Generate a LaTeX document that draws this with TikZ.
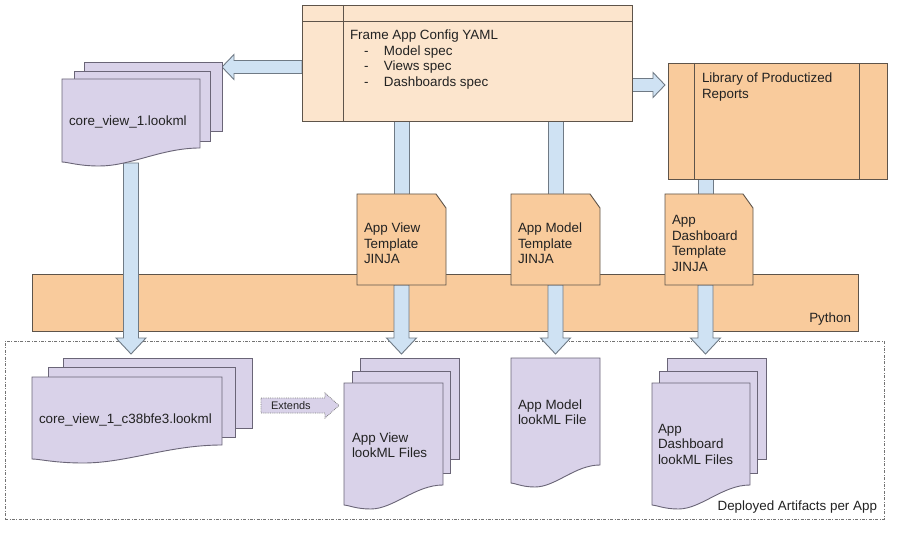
\documentclass[tikz,border=0pt]{standalone}
\usepackage{fontspec}
\setmainfont{Liberation Sans}
\usetikzlibrary{calc}
\definecolor{peach}{HTML}{FCE5CD}
\definecolor{orng}{HTML}{F9CB9C}
\definecolor{lilac}{HTML}{D9D2E9}
\definecolor{lblue}{HTML}{CFE2F3}
\definecolor{edge}{HTML}{5E544A}
\definecolor{sedge}{HTML}{6A6577}
\definecolor{aedge}{HTML}{6F7A85}
\definecolor{ink}{HTML}{222222}
\pgfdeclarelayer{back}\pgfdeclarelayer{mid}\pgfsetlayers{back,mid,main}
\tikzset{
  base/.style={inner sep=0pt, outer sep=0pt, anchor=north west},
  boxf/.style={base, draw=edge, line width=0.9pt},
  sheetback/.style={base, draw=sedge, fill=lilac, line width=0.9pt},
  sheet/.style={fill=lilac, draw=sedge, line width=0.9pt},
  tmpl/.style={fill=orng, draw=edge, line width=0.9pt},
  blk/.style={fill=lblue, draw=aedge, line width=0.9pt},
  txt/.style={inner sep=0pt, outer sep=0pt, anchor=base west, text=ink,
    font=\fontsize{13.4}{15.5}\selectfont},
  rtxt/.style={txt, anchor=base east},
}
% document sheet with wavy bottom: x0, ytop, x1, yleftbottom, yrightbottom
\newcommand\docsheet[5]{%
  \draw[sheet] (#1,#2) -- (#3,#2) -- (#3,#5)
    .. controls ({#1+0.72*(#3-#1)},#5) and ({#1+0.5*(#3-#1)},{#4+4}) .. ({#1+0.27*(#3-#1)},{#4+4})
    .. controls ({#1+0.12*(#3-#1)},{#4+4}) and ({#1+0.04*(#3-#1)},#4) .. (#1,#4) -- cycle;}
% template shape with cut corner from a named node
\newcommand\tmplshape[1]{%
  \draw[tmpl] (#1.north west) -- ($(#1.north east)+(-10,0)$) -- ($(#1.north east)+(0,14)$)
    -- (#1.south east) -- (#1.south west) -- cycle;}
% downward block arrow: start, tip (x from start)
\newcommand\varrowblk[2]{%
  \draw[blk] let \p1=#1, \p2=#2 in
    (\x1-7.5pt,\y1) -- (\x1+7.5pt,\y1) -- (\x1+7.5pt,\y2+16pt) -- (\x1+15pt,\y2+16pt)
    -- (\x1,\y2) -- (\x1-15pt,\y2+16pt) -- (\x1-7.5pt,\y2+16pt) -- cycle;}
% vertical shaft: lower end, upper end (x from first)
\newcommand\vshaft[2]{%
  \draw[blk] let \p1=#1, \p2=#2 in (\x1-7.5pt,\y1) rectangle (\x1+7.5pt,\y2);}
% horizontal block arrow: start, tip, head length signed
\newcommand\harrowblk[3]{%
  \draw[blk] let \p1=#1, \p2=#2 in
    (\x1,\y1+6.5pt) -- ({\x2+(#3pt)},\y1+6.5pt) -- ({\x2+(#3pt)},\y1+12.5pt) -- (\x2,\y1)
    -- ({\x2+(#3pt)},\y1-12.5pt) -- ({\x2+(#3pt)},\y1-6.5pt) -- (\x1,\y1-6.5pt) -- cycle;}
\begin{document}
\begin{tikzpicture}[x=1pt,y=-1pt]
\useasboundingbox (0,0) rectangle (900,540);
\begin{pgfonlayer}{back}
  \fill[white] (0,0) rectangle (900,540);
  \node[base, draw=black!55, line width=0.8pt,
    dash pattern=on 3pt off 1.5pt on 0.8pt off 1.5pt,
    minimum width=879pt, minimum height=178pt] (deploy) at (5,341) {};
  \node[boxf, fill=orng, minimum width=826pt, minimum height=57pt] (py) at (32,274) {};
\end{pgfonlayer}

% Frame App Config YAML
\node[boxf, fill=peach, minimum width=330pt, minimum height=116pt] (frame) at (302,5) {};
\draw[edge, line width=0.9pt] ($(frame.north west)+(41,0)$) -- ($(frame.south west)+(41,0)$);
\draw[edge, line width=0.9pt] ($(frame.north west)+(0,16)$) -- ($(frame.north east)+(0,16)$);
\node[txt] (frametxt) at (350,40) {\vtop{\hbox{Frame App Config YAML}
  \hbox{\hspace*{14pt}\makebox[20pt][l]{-}Model spec}
  \hbox{\hspace*{14pt}\makebox[20pt][l]{-}Views spec}
  \hbox{\hspace*{14pt}\makebox[20pt][l]{-}Dashboards spec}}};

% Library
\node[boxf, fill=orng, minimum width=219pt, minimum height=116pt] (lib) at (668,63) {};
\draw[edge, line width=0.9pt] ($(lib.north west)+(26,0)$) -- ($(lib.south west)+(26,0)$);
\draw[edge, line width=0.9pt] ($(lib.north east)+(-28,0)$) -- ($(lib.south east)+(-28,0)$);
\node[txt] (libtxt) at (702,83) {\vtop{\hbox{Library of Productized}\hbox{Reports}}};

% core_view_1 stack
\node[sheetback, minimum width=138pt, minimum height=69pt] (cv3) at (84,62) {};
\node[sheetback, minimum width=136pt, minimum height=70pt] (cv2) at (74,71) {};
\node[base, minimum width=138pt, minimum height=84pt] (cvf) at (62,79) {};
\docsheet{62}{79}{200}{162}{148}
\node[txt] (cvtxt) at (69,126) {core\_view\_1.lookml};

% templates
\node[base, minimum width=89pt, minimum height=91pt] (tview) at (357,194) {};
\tmplshape{tview}
\node[txt] (tviewtxt) at (364,233) {\vtop{\hbox{App View}\hbox{Template}\hbox{JINJA}}};
\node[base, minimum width=89pt, minimum height=91pt] (tmodel) at (511,194) {};
\tmplshape{tmodel}
\node[txt] (tmodeltxt) at (518,233) {\vtop{\hbox{App Model}\hbox{Template}\hbox{JINJA}}};
\node[base, minimum width=88pt, minimum height=91pt] (tdash) at (665,194) {};
\tmplshape{tdash}
\node[txt] (tdashtxt) at (672,225) {\vtop{\hbox{App}\hbox{Dashboard}\hbox{Template}\hbox{JINJA}}};

\node[rtxt] (pytxt) at (851,322) {Python};

% big core stack
\node[sheetback, minimum width=189pt, minimum height=70pt] (bs3) at (63,358) {};
\node[sheetback, minimum width=187pt, minimum height=70pt] (bs2) at (48,367) {};
\node[base, minimum width=190pt, minimum height=86pt] (bsf) at (32,377) {};
\docsheet{32}{377}{222}{459}{445}
\node[txt] (bstxt) at (39,423) {core\_view\_1\_c38bfe3.lookml};

% App View files
\node[sheetback, minimum width=99pt, minimum height=101pt] (vs3) at (360,358) {};
\node[sheetback, minimum width=98pt, minimum height=102pt] (vs2) at (352,371) {};
\node[base, minimum width=99pt, minimum height=122pt] (vsf) at (344,383) {};
\docsheet{344}{383}{443}{505}{485}
\node[txt] (vstxt) at (352,442) {\vtop{\hbox{App View}\hbox{lookML Files}}};

% App Model file
\node[base, minimum width=89pt, minimum height=125pt] (mf) at (511,358) {};
\docsheet{511}{358}{600}{483}{465}
\node[txt] (mftxt) at (518,409) {\vtop{\hbox{App Model}\hbox{lookML File}}};

% App Dashboard files
\node[sheetback, minimum width=99pt, minimum height=101pt] (ds3) at (667,358) {};
\node[sheetback, minimum width=98pt, minimum height=102pt] (ds2) at (659,371) {};
\node[base, minimum width=98pt, minimum height=122pt] (dsf) at (652,383) {};
\docsheet{652}{383}{750}{505}{485}
\node[txt] (dstxt) at (658,433) {\vtop{\hbox{App}\hbox{Dashboard}\hbox{lookML Files}}};

\node[rtxt] (deploytxt) at (877,510) {Deployed Artifacts per App};

% Extends arrow
\coordinate (exs) at ($(bs3.east)+(9,12.5)$);
\coordinate (ext) at ($(vsf.west |- exs)+(-5,0)$);
\draw[fill=lilac, draw=black!50, line width=0.8pt, densely dotted] let \p1=(exs), \p2=(ext) in
  (\x1,\y1+7.5pt) -- (\x2-14pt,\y1+7.5pt) -- (\x2-14pt,\y1+12.5pt) -- (\x2,\y1)
  -- (\x2-14pt,\y1-12.5pt) -- (\x2-14pt,\y1-7.5pt) -- (\x1,\y1-7.5pt) -- cycle;
\node[txt, font=\fontsize{11}{13}\selectfont] (extxt) at (271,409) {Extends};

% block arrows
\begin{pgfonlayer}{mid}
  \harrowblk{($(frame.west)+(0,4)$)}{(cv3.east)}{12}
  \harrowblk{($(frame.east)+(0,22)$)}{($(lib.west)+(-3,0)$)}{-12}
  \vshaft{(tview.north)}{(frame.south)}
  \vshaft{(tmodel.north)}{(frame.south)}
  \vshaft{($(tdash.north)+(-3.5,0)$)}{(lib.south)}
  \varrowblk{(cvf.south)}{($(bs3.north)+(0,-4)$)}
  \varrowblk{(tview.south)}{($(vs3.north)+(0,-4)$)}
  \varrowblk{(tmodel.south)}{($(mf.north)+(0,-4)$)}
  \varrowblk{($(tdash.south)+(-3.5,0)$)}{($(ds3.north)+(0,-4)$)}
\end{pgfonlayer}
\end{tikzpicture}
\end{document}
